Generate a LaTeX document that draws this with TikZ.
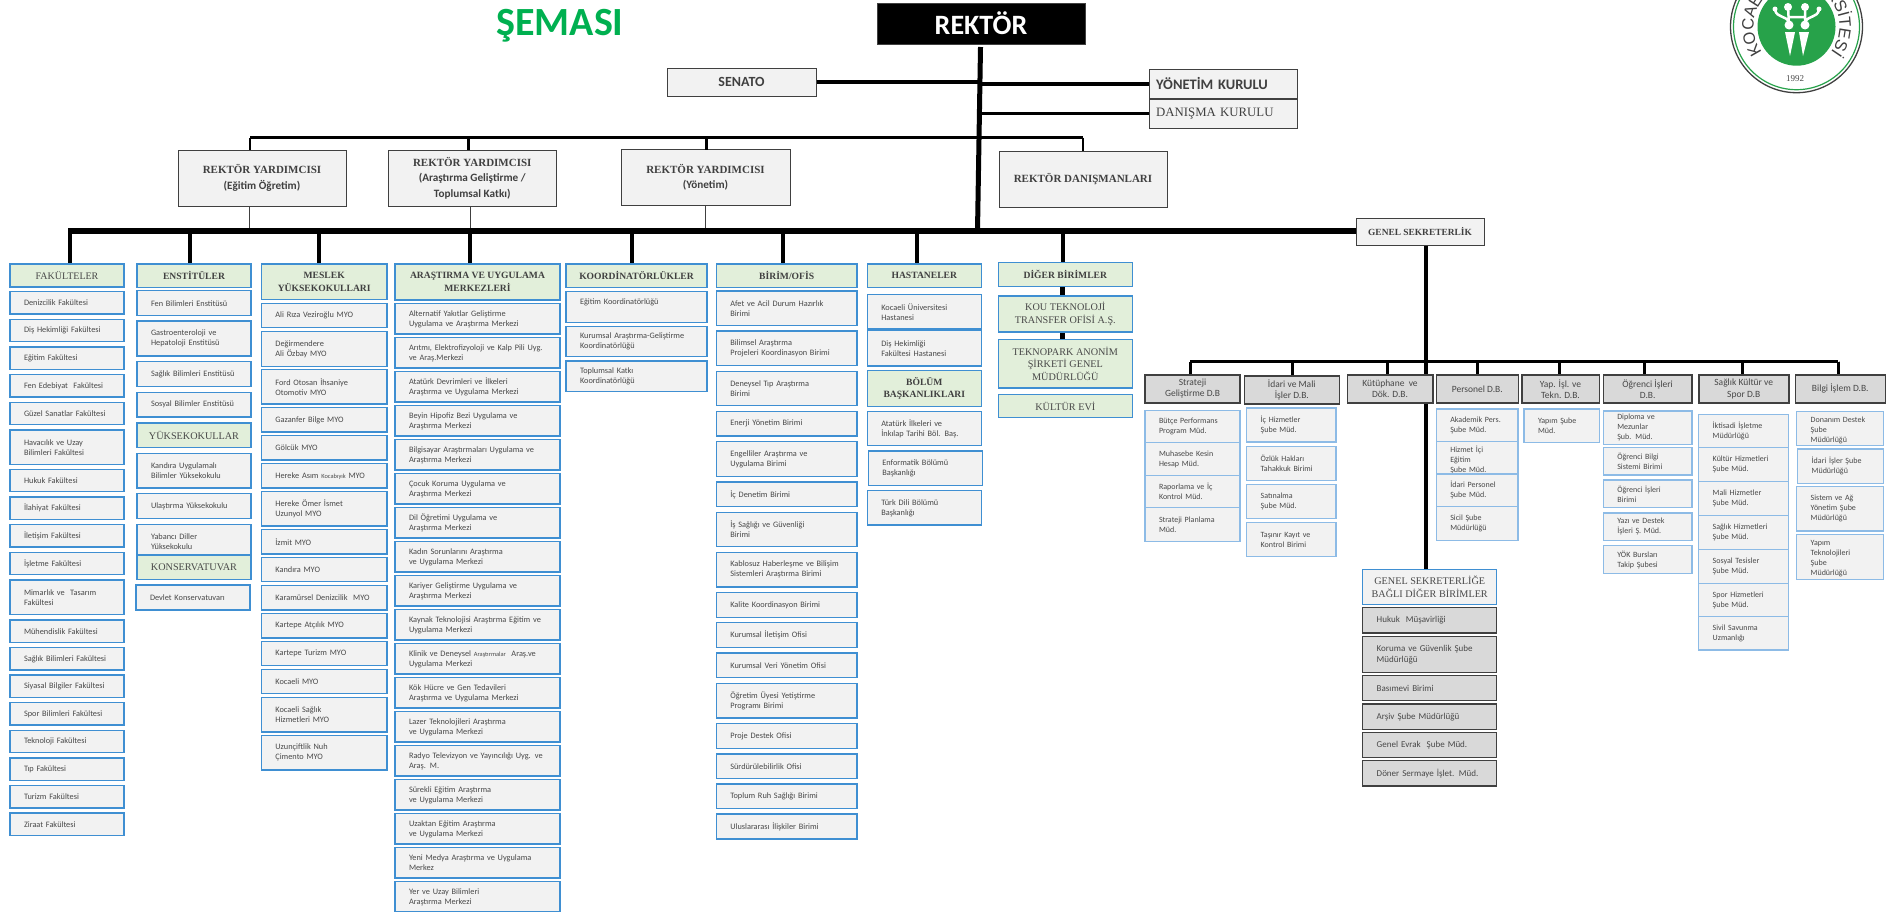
\documentclass[tikz,border=0pt]{standalone}
\usepackage{fontspec}
\setmainfont{Carlito}
\newfontfamily\headfont{Liberation Serif}
\newfontfamily\sealfont{Liberation Sans}
\usetikzlibrary{decorations.text}
\definecolor{unitblue}{HTML}{3F8FD2}
\definecolor{subblue}{HTML}{8DBBE6}
\definecolor{headgreen}{HTML}{E2EFDA}
\definecolor{boxgray}{HTML}{F2F2F2}
\definecolor{dbgray}{HTML}{D9D9D9}
\definecolor{sealgreen}{HTML}{27A24A}
\definecolor{titlegreen}{HTML}{00B050}
\definecolor{inkgray}{HTML}{484848}
\definecolor{framegray}{HTML}{404040}
\tikzset{
  unititem/.style={draw=unitblue,line width=1.5pt,fill=boxgray,inner sep=0pt,align=left,text=inkgray,font=\fontsize{8.3}{10}\selectfont},
  subitem/.style={draw=subblue,line width=1.2pt,fill=boxgray,inner sep=0pt,align=left,text=inkgray,font=\fontsize{8}{10}\selectfont},
  grayitem/.style={draw=framegray,line width=1.5pt,fill=dbgray,inner sep=0pt,align=left,text=inkgray,font=\fontsize{9}{11}\selectfont},
  unithead/.style={draw=unitblue,line width=1.5pt,fill=headgreen,inner sep=0pt,align=center,text=framegray,font=\headfont\bfseries\fontsize{9.6}{12.5}\selectfont},
  softhead/.style={unithead,text=inkgray,font=\headfont\fontsize{10.2}{12.5}\selectfont},
  dbhead/.style={draw=framegray,line width=1.6pt,fill=dbgray,inner sep=0pt,align=center,text=inkgray,font=\fontsize{9.5}{11.3}\selectfont},
  topbox/.style={draw=framegray,line width=1pt,fill=boxgray,inner sep=0pt,align=center,text=framegray,font=\headfont\bfseries\fontsize{11}{15.3}\selectfont},
  thinlink/.style={line width=1pt,draw=framegray}
}
\newcommand{\headnode}[7]{\node[#1,minimum width={((#5)-(#3))*1pt},minimum height={((#6)-(#4))*1pt}] (#2) at ({((#3)+(#5))/2},{((#4)+(#6))/2}) {#7};}
\newcommand{\unitnode}[7]{\node[#1,minimum width={((#5)-(#3))*1pt},minimum height={((#6)-(#4))*1pt},text width={((#5)-(#3)-28)*1pt}] (#2) at ({((#3)+(#5))/2},{((#4)+(#6))/2}) {#7};}
\newcommand{\lowtext}[2]{\raisebox{-#1pt}[0pt][0pt]{\parbox[c]{70pt}{\raggedright #2}}}
\newcommand{\tinyword}[1]{{\fontsize{6.4}{10}\selectfont #1}}
\begin{document}
\begin{tikzpicture}[x=1pt,y=-1pt]
  \useasboundingbox (0,0) rectangle (1892,911);
  \node[text=titlegreen,font=\bfseries\fontsize{40}{40}\selectfont] (title) at (560,26) {ŞEMASI};
  \headnode{topbox,fill=black,text=white,font=\bfseries\fontsize{28}{28}\selectfont}{rektor}{877}{3}{1085}{44}{REKTÖR}
  \headnode{topbox,font=\bfseries\fontsize{14}{14}\selectfont}{senato}{667}{68}{816}{96.5}{SENATO}
  \node[topbox,minimum width=148.5pt,minimum height=29pt,text width=135pt,align=left,font=\bfseries\fontsize{14.5}{14.5}\selectfont] (yonetim) at (1223.7,83.5) {YÖNETİM KURULU};
  \node[topbox,minimum width=148.5pt,minimum height=29pt,text width=135pt,align=left,font=\headfont\fontsize{12.8}{12.8}\selectfont] (danisma) at (1223.7,113.5) {DANIŞMA KURULU};
  \coordinate (trunktop) at (980.5,47);
  \coordinate (trunkbot) at (977.5,231);
  \coordinate (ryleft) at (250,137.5);
  \coordinate (busleft) at (68,231);
  \coordinate (gsleft) at (1190,361.7);
  \coordinate (gsright) at (1838,361.7);
  \headnode{topbox}{ryone}{178}{150}{346}{206}{REKTÖR YARDIMCISI\\{\rmfamily\fontsize{11.2}{15.3}\selectfont (Eğitim Öğretim)}}
  \headnode{topbox}{rytwo}{388.5}{150}{556}{206}{REKTÖR YARDIMCISI\\{\rmfamily\fontsize{11.2}{15.3}\selectfont (Araştırma Geliştirme /}\\{\rmfamily\fontsize{11.2}{15.3}\selectfont Toplumsal Katkı)}}
  \headnode{topbox}{rythree}{621}{149}{790}{205}{REKTÖR YARDIMCISI\\{\rmfamily\fontsize{11.2}{15.3}\selectfont (Yönetim)}}
  \headnode{topbox}{danisman}{999}{151}{1167}{207}{REKTÖR DANIŞMANLARI}
  \headnode{topbox,font=\headfont\bfseries\fontsize{9.4}{11}\selectfont}{gensek}{1356}{218}{1484}{245}{GENEL SEKRETERLİK}
  \draw[line width=5pt] (trunktop) -- (trunkbot);
  \draw[line width=4pt] (senato.east) -- (senato.east -| trunktop);
  \draw[line width=4pt] (yonetim.west) -- (yonetim.west -| trunktop);
  \draw[line width=3pt] (danisma.west) -- (danisma.west -| trunktop);
  \draw[line width=3pt] (ryleft) -- (ryleft -| danisman.north);
  \draw[line width=2.5pt] (ryleft) -- (ryleft |- ryone.north);
  \draw[line width=2.5pt] (ryleft -| rytwo.north) ++(-4,0) -- ++(0,12.5);
  \draw[line width=2.5pt] (ryleft -| rythree.north) ++(1,0) -- ++(0,12);
  \draw[line width=2.5pt] (ryleft -| danisman.north) -- (danisman.north);
  \draw[thinlink] (ryone.south) ++(-13,0) -- ++(0,23);
  \draw[thinlink] (rytwo.south) ++(-2,0) -- ++(0,23);
  \draw[thinlink] (rythree.south) -- ++(0,24);
  \draw[line width=6pt] (busleft) -- (busleft -| gensek.west);
  \draw[line width=4.5pt] (gensek.south) ++(6,0) -- ++(0,324);
  \draw[line width=3pt] (gsleft) -- (gsright);
  \headnode{unithead,font=\headfont\fontsize{10}{12.5}\selectfont,text=inkgray}{hfak}{10}{264}{124}{287}{FAKÜLTELER}
  \draw[line width=4pt] (busleft -| 70,0) -- (hfak.north -| 70,0);
  \foreach \ya/\yb/\txt [count=\n] in {
    291.7/314/Denizcilik Fakültesi,319.3/341.7/Diş Hekimliği Fakültesi,347/369.3/Eğitim Fakültesi,
    374.7/397/Fen Edebiyat\ \ Fakültesi,402.3/424.7/Güzel Sanatlar Fakültesi,430/464.3/{Havacılık ve Uzay\\Bilimleri Fakültesi},
    469.3/491.7/Hukuk Fakültesi,497/519.3/İlahiyat Fakültesi,524.7/547/İletişim Fakültesi,552.3/574.7/İşletme Fakültesi,
    580/614.7/{Mimarlık ve\ \ Tasarım\\Fakültesi},620/642.3/Mühendislik Fakültesi,647.7/670/Sağlık Bilimleri Fakültesi,
    675/697.3/Siyasal Bilgiler Fakültesi,702.7/725/Spor Bilimleri Fakültesi,730.3/752.7/Teknoloji Fakültesi,
    758/780.3/Tıp Fakültesi,785.7/808/Turizm Fakültesi,813/835.3/Ziraat Fakültesi}
    \unitnode{unititem}{fak\n}{10}{\ya}{124}{\yb}{\txt}
  \headnode{unithead}{henst}{137}{264}{251}{287.3}{ENSTİTÜLER}
  \draw[line width=4pt] (busleft -| 190,0) -- (henst.north -| 190,0);
  \foreach \ya/\yb/\txt [count=\n] in {
    290.7/315.7/Fen Bilimleri Enstitüsü,321/356/{Gastroenteroloji ve\\Hepatoloji Enstitüsü},361.7/386.3/Sağlık Bilimleri Enstitüsü,
    392.3/417/Sosyal Bilimler Enstitüsü,453.3/488/{Kandıra Uygulamalı\\Bilimler Yüksekokulu},493.7/518.3/Ulaştırma Yüksekokulu,
    524.3/558/{Yabancı Diller\\Yüksekokulu}}
    \unitnode{unititem}{enst\n}{137}{\ya}{251}{\yb}{\txt}
  \headnode{softhead}{hyuksek}{137}{423}{251}{447.7}{YÜKSEKOKULLAR}
  \headnode{softhead}{hkons}{137}{555}{251}{579.3}{KONSERVATUVAR}
  \unitnode{unititem}{devlet}{136}{585}{250}{610}{Devlet Konservatuvarı}
  \headnode{unithead}{hmyo}{261.4}{264}{387}{299.7}{MESLEK\\YÜKSEKOKULLARI}
  \draw[line width=4pt] (busleft -| 319,0) -- (hmyo.north -| 319,0);
  \foreach \ya/\yb/\txt [count=\n] in {
    303.7/327.7/Ali Rıza Veziroğlu MYO,331.7/366.3/{Değirmendere\\Ali Özbay MYO},369.7/404/{Ford Otosan İhsaniye\\Otomotiv MYO},
    407.7/432/Gazanfer Bilge MYO,435.7/460/Gölcük MYO,463.7/488/Hereke Asım \tinyword{Kocabıyık} MYO,
    491.7/526/{Hereke Ömer İsmet\\Uzunyol MYO},529.7/554/İzmit MYO,557.7/581.7/Kandıra MYO,585.7/610/Karamürsel Denizcilik\ \ MYO,
    613.3/638/Kartepe Atçılık MYO,641.3/665.7/Kartepe Turizm MYO,669.3/693.7/Kocaeli MYO,697.3/732/{Kocaeli Sağlık\\Hizmetleri MYO},
    735.3/770/{Uzunçiftlik Nuh\\Çimento MYO}}
    \unitnode{unititem}{myo\n}{261.4}{\ya}{387}{\yb}{\txt}
  \headnode{unithead}{harge}{395}{264}{560}{300}{ARAŞTIRMA VE UYGULAMA\\MERKEZLERİ}
  \draw[line width=4pt] (busleft -| 470,0) -- (harge.north -| 470,0);
  \foreach \txt [count=\n from 0] in {
    {Alternatif Yakıtlar Geliştirme\\Uygulama ve Araştırma Merkezi},{Arıtmı, Elektrofizyoloji ve Kalp Pili Uyg.\\ve Araş.Merkezi},
    {Atatürk Devrimleri ve İlkeleri\\Araştırma ve Uygulama Merkezi},{Beyin Hipofiz Bezi Uygulama ve\\Araştırma Merkezi},
    {Bilgisayar Araştırmaları Uygulama ve\\Araştırma Merkezi},{Çocuk Koruma Uygulama ve\\Araştırma Merkezi},
    {Dil Öğretimi Uygulama ve\\Araştırma Merkezi},{Kadın Sorunlarını Araştırma\\ve Uygulama Merkezi},
    {Kariyer Geliştirme Uygulama ve\\Araştırma Merkezi},{Kaynak Teknolojisi Araştırma Eğitim ve\\Uygulama Merkezi},
    {Klinik ve Deneysel \tinyword{Araştırmalar}\ \ Araş.ve\\Uygulama Merkezi},{Kök Hücre ve Gen Tedavileri\\Araştırma ve Uygulama Merkezi},
    {Lazer Teknolojileri Araştırma\\ve Uygulama Merkezi},{Radyo Televizyon ve Yayıncılığı Uyg. ve\\Araş. M.},
    {Sürekli Eğitim Araştırma\\ve Uygulama Merkezi},{Uzaktan Eğitim Araştırma\\ve Uygulama Merkezi},
    {Yeni Medya Araştırma ve Uygulama\\Merkez},{Yer ve Uzay Bilimleri\\Araştırma Merkezi}}
    \unitnode{unititem}{arge\n}{395}{303.7+34*\n}{560}{334+34*\n}{\txt}
  \headnode{unithead}{hkoor}{566}{264}{707}{287.3}{KOORDİNATÖRLÜKLER}
  \draw[line width=4pt] (busleft -| 631.5,0) -- (hkoor.north -| 631.5,0);
  \foreach \ya/\yb/\txt [count=\n] in {
    291.3/322.3/{Eğitim Koordinatörlüğü\\~},326.3/356.7/{Kurumsal Araştırma-Geliştirme\\Koordinatörlüğü},361/391.7/{Toplumsal Katkı\\Koordinatörlüğü}}
    \unitnode{unititem}{koor\n}{566}{\ya}{707}{\yb}{\txt}
  \headnode{unithead}{hbirim}{716.3}{264}{857}{287.3}{BİRİM/OFİS}
  \draw[line width=4pt] (busleft -| 783,0) -- (hbirim.north -| 783,0);
  \foreach \ya/\yb/\txt [count=\n] in {
    291/325.7/{Afet ve Acil Durum Hazırlık\\Birimi},331/365.7/{Bilimsel Araştırma\\Projeleri Koordinasyon Birimi},
    371.3/405.7/{Deneysel Tıp Araştırma\\Birimi},411.3/436/Enerji Yönetim Birimi,441.7/476.3/{Engelliler Araştırma ve\\Uygulama Birimi},
    482/506.7/İç Denetim Birimi,512.3/546.7/{İş Sağlığı ve Güvenliği\\Birimi},552.3/587/{Kablosuz Haberleşme ve Bilişim\\Sistemleri Araştırma Birimi},
    592.3/617.3/Kalite Koordinasyon Birimi,622.7/647.3/Kurumsal İletişim Ofisi,653/677.7/Kurumsal Veri Yönetim Ofisi,
    683.3/718/{Öğretim Üyesi Yetiştirme\\Programı Birimi},723.7/748.3/Proje Destek Ofisi,754/778.7/Sürdürülebilirlik Ofisi,
    784/808.7/Toplum Ruh Sağlığı Birimi,814/839/Uluslararası İlişkiler Birimi}
    \unitnode{unititem}{birim\n}{716.3}{\ya}{857}{\yb}{\txt}
  \headnode{unithead}{hhast}{867.3}{264}{981.3}{287.3}{HASTANELER}
  \draw[line width=4pt] (busleft -| 917,0) -- (hhast.north -| 917,0);
  \foreach \ya/\yb/\txt [count=\n] in {
    294.7/329/{Kocaeli Üniversitesi\\Hastanesi},330.7/366/{Diş Hekimliği\\Fakültesi Hastanesi},411.3/445.7/{Atatürk İlkeleri ve\\İnkılap Tarihi Böl. Baş.},
    490.7/525/{Türk Dili Bölümü\\Başkanlığı}}
    \unitnode{unititem}{hast\n}{867.3}{\ya}{981.3}{\yb}{\txt}
  \unitnode{unititem}{enform}{868.3}{451}{982.3}{485.7}{Enformatik Bölümü\\Başkanlığı}
  \headnode{unithead}{hbolum}{867.3}{370.7}{981.3}{406.7}{BÖLÜM\\BAŞKANLIKLARI}
  \headnode{unithead}{hdiger}{998.3}{262.7}{1132.3}{286.7}{DİĞER BİRİMLER}
  \draw[line width=4pt] (busleft -| 1062.5,0) -- (hdiger.north -| 1062.5,0);
  \headnode{softhead}{kouto}{998.3}{296}{1132.3}{332}{KOU TEKNOLOJİ\\TRANSFER OFİSİ A.Ş.}
  \headnode{softhead}{tekno}{998.3}{339.3}{1132.3}{388}{TEKNOPARK ANONİM\\ŞİRKETİ GENEL\\MÜDÜRLÜĞÜ}
  \headnode{softhead}{kultur}{998.3}{394.3}{1132.3}{417.7}{KÜLTÜR EVİ}
  \draw[line width=5pt] (hdiger.south -| 1062.5,0) -- (kouto.north -| 1062.5,0);
  \draw[line width=5pt] (kouto.south -| 1062.5,0) -- (tekno.north -| 1062.5,0);
  \headnode{dbhead}{dbstrat}{1145}{375}{1240}{402.7}{Strateji\\Geliştirme D.B}
  \draw[line width=3pt] (gsleft) -- (dbstrat.north -| gsleft);
  \foreach \ya/\yb/\txt [count=\n] in {
    410.3/442.7/{Bütçe Performans\\Program Müd.},442.7/475.3/{Muhasebe Kesin\\Hesap Müd.},475.3/507.3/{Raporlama ve İç\\Kontrol Müd.},507.3/541.7/{Strateji Planlama\\Müd.}}
    \unitnode{subitem}{strat\n}{1145}{\ya}{1240}{\yb}{\txt}
  \headnode{dbhead}{dbidari}{1244.3}{375.7}{1339.3}{404}{İdari ve Mali\\İşler D.B.}
  \draw[line width=3pt] (gsleft -| 1292,0) -- (dbidari.north -| 1292,0);
  \foreach \ya/\yb/\txt [count=\n] in {
    408/442/{İç Hizmetler\\Şube Müd.},446.3/480.3/{Özlük Hakları\\Tahakkuk Birimi},484.3/518.3/{Satınalma\\Şube Müd.},522.3/556.7/{Taşınır Kayıt ve\\Kontrol Birimi}}
    \unitnode{subitem}{idari\n}{1246.7}{\ya}{1336}{\yb}{\txt}
  \headnode{dbhead}{dbkut}{1347.3}{375}{1432.7}{402.7}{Kütüphane\ \ ve\\Dök. D.B.}
  \draw[line width=3pt] (gsleft -| 1387,0) -- (dbkut.north -| 1387,0);
  \headnode{dbhead}{dbpers}{1436.3}{375}{1518.3}{402.7}{Personel D.B.}
  \draw[line width=3pt] (gsleft -| 1477,0) -- (dbpers.north -| 1477,0);
  \foreach \ya/\yb/\txt [count=\n] in {
    409/441.7/{Akademik Pers.\\Şube Müd.},441.7/474/{\lowtext{4}{Hizmet İçi\\Eğitim\\Şube Müd.}},474/506.3/{İdari Personel\\Şube Müd.},506.3/540.7/{Sicil Şube\\Müdürlüğü}}
    \unitnode{subitem}{pers\n}{1436.3}{\ya}{1518}{\yb}{\txt}
  \headnode{dbhead}{dbyap}{1521.7}{375}{1599.3}{402.7}{Yap. İşl. ve\\Tekn. D.B.}
  \draw[line width=3pt] (gsleft -| 1559,0) -- (dbyap.north -| 1559,0);
  \unitnode{subitem}{yapim}{1524}{409}{1599.3}{442.7}{Yapım Şube\\Müd.}
  \headnode{dbhead}{dbogr}{1603.3}{375}{1692}{402.7}{Öğrenci İşleri\\D.B.}
  \draw[line width=3pt] (gsleft -| 1644,0) -- (dbogr.north -| 1644,0);
  \foreach \ya/\yb/\txt [count=\n] in {
    411/444.3/{Diploma ve\\Mezunlar\\Şub. Müd.},447.3/475/{Öğrenci Bilgi\\Sistemi Birimi},480/507.7/{Öğrenci İşleri\\Birimi},513/540.7/{Yazı ve Destek\\İşleri Ş. Müd.},545.7/573.3/{YÖK Bursları\\Takip Şubesi}}
    \unitnode{subitem}{ogr\n}{1603.3}{\ya}{1692}{\yb}{\txt}
  \headnode{dbhead}{dbsag}{1698.7}{375}{1788.7}{402.7}{Sağlık Kültür ve\\Spor D.B}
  \draw[line width=3pt] (gsleft -| 1742,0) -- (dbsag.north -| 1742,0);
  \foreach \ya/\yb/\txt [count=\n] in {
    414.7/447.7/{İktisadi İşletme\\Müdürlüğü},447.7/481.7/{Kültür Hizmetleri\\Şube Müd.},481.7/515.7/{Mali Hizmetler\\Şube Müd.},515.7/549.3/{Sağlık Hizmetleri\\Şube Müd.},
    549.3/583.3/{Sosyal Tesisler\\Şube Müd.},583.3/616.7/{Spor Hizmetleri\\Şube Müd.},616.7/650/{Sivil Savunma\\Uzmanlığı}}
    \unitnode{subitem}{sag\n}{1698.7}{\ya}{1788.7}{\yb}{\txt}
  \headnode{dbhead}{dbbil}{1795.3}{375}{1885.3}{402.7}{Bilgi İşlem D.B.}
  \draw[line width=3pt] (gsright) -- (dbbil.north -| gsright);
  \unitnode{subitem}{bil1}{1796.7}{411.3}{1883.3}{445.7}{\lowtext{4}{Donanım Destek\\Şube\\Müdürlüğü}}
  \unitnode{subitem}{bil2}{1797.7}{449}{1883.3}{483.3}{İdari İşler Şube\\Müdürlüğü}
  \unitnode{subitem}{bil3}{1796.7}{486.3}{1883.3}{531}{Sistem ve Ağ\\Yönetim Şube\\Müdürlüğü}
  \unitnode{subitem}{bil4}{1796.7}{534.7}{1883.3}{579.3}{\lowtext{4}{Yapım\\Teknolojileri\\Şube\\Müdürlüğü}}
  \headnode{unithead,fill=boxgray,text=inkgray,font=\headfont\fontsize{10.2}{12.5}\selectfont}{hbagli}{1362.7}{569.3}{1496.7}{604.3}{GENEL SEKRETERLİĞE\\BAĞLI DİĞER BİRİMLER}
  \foreach \ya/\yb/\txt [count=\n] in {
    607.7/633/Hukuk\ \ Müşavirliği,636.3/672.7/{Koruma ve Güvenlik Şube\\Müdürlüğü},675.3/700.7/Basımevi Birimi,704/729.3/Arşiv Şube Müdürlüğü,732.3/757.7/Genel Evrak\ \ Şube Müd.,760.3/786/Döner Sermaye İşlet. Müd.}
    \unitnode{grayitem}{bagli\n}{1362.7}{\ya}{1496.7}{\yb}{\txt}
  \coordinate (seal) at (1796.5,26.7);
  \draw[framegray,line width=1.3pt,fill=white] (seal) circle (66);
  \draw[sealgreen,line width=1.2pt] (seal) circle (63);
  \fill[sealgreen] (seal) circle (39);
  \path[decorate,decoration={text along path,text align=center,text={|\sealfont\fontsize{16.5}{16.5}\selectfont\color{framegray}|KOCAELİ ÜNİVERSİTESİ}}] ([shift={(140:43)}]seal) arc[start angle=140,end angle=400,radius=43];
  \node[font=\headfont\fontsize{9}{9}\selectfont,text=inkgray] (sealyear) at (1795,79) {1992};
  \fill[white] (1785,32) -- (1790,56) -- (1795,32) -- cycle (1799,32) -- (1803,56) -- (1809,32) -- cycle;
  \fill[white] (1789,25) circle (4.5) (1805,25) circle (4.5) (1788,7) circle (4) (1805,7) circle (4) (1775,9) circle (2.5) (1819,9) circle (2.5);
  \draw[white,line width=2.5pt] (1775,10) .. controls (1777,18) and (1785,15) .. (1789,22) (1788,7) -- (1789,25) (1805,7) -- (1805,25) (1819,10) .. controls (1817,18) and (1809,15) .. (1805,22) (1789,17) -- (1805,17);
\end{tikzpicture}
\end{document}
